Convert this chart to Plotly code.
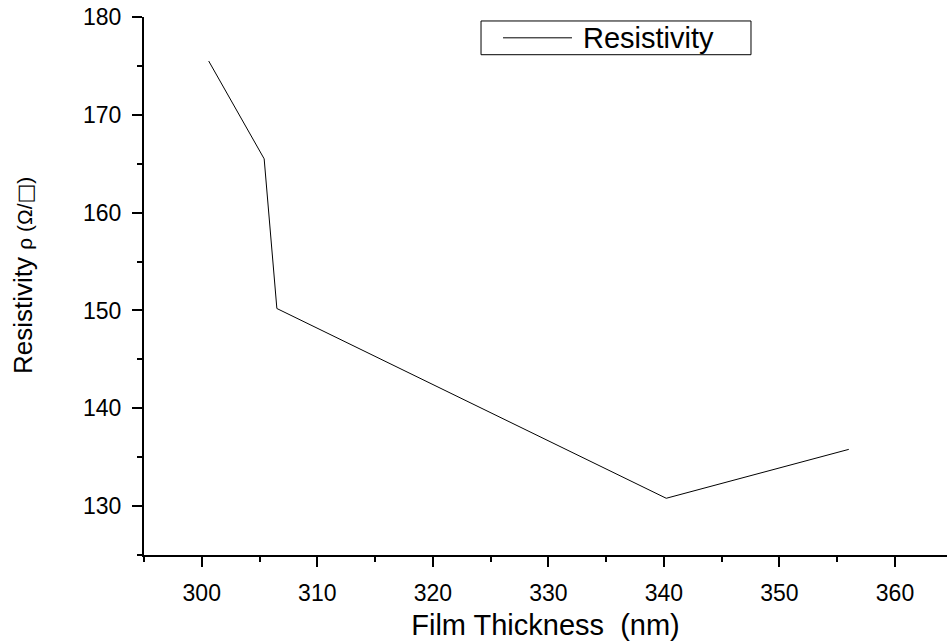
import plotly.graph_objects as go

thickness_nm = [300.6, 305.4, 306.5, 340.2, 356.0]
resistivity = [175.5, 165.5, 150.2, 130.8, 135.8]
x_ticks = [300, 310, 320, 330, 340, 350, 360]
y_ticks = [130, 140, 150, 160, 170, 180]
series_name = "Resistivity"
y_title = ("Resistivity <span style='font-size:21px'>ρ (Ω/</span>"
           "<span style='font-size:21px;font-family:DejaVu Sans'>□</span>"
           "<span style='font-size:21px'>)</span>")

FONT = "Liberation Sans, Arial, sans-serif"

fig = go.Figure()
fig.add_trace(go.Scatter(
    x=thickness_nm, y=resistivity, mode="lines", name=series_name,
    line=dict(color="black", width=1), showlegend=False,
))

axis_common = dict(
    showline=True, linecolor="black", linewidth=2,
    ticks="outside", ticklen=10, tickwidth=2, tickcolor="black",
    showgrid=False, zeroline=False, mirror=False,
    tickfont=dict(family=FONT, size=23, color="black"),
    ticklabelstandoff=6,
)

fig.update_layout(
    width=947, height=641,
    margin=dict(l=144, r=0, t=17, b=82),
    paper_bgcolor="white", plot_bgcolor="white",
    font=dict(family=FONT, color="black"),
    xaxis=dict(
        range=[295, 364.5], tickvals=x_ticks,
        minor=dict(ticks="outside", ticklen=5, tickwidth=2, tickcolor="black", dtick=5, tick0=295),
        title=dict(text="Film Thickness  (nm)", font=dict(family=FONT, size=29, color="black"), standoff=15),
        **axis_common,
    ),
    yaxis=dict(
        range=[125, 180], tickvals=y_ticks,
        minor=dict(ticks="outside", ticklen=5, tickwidth=2, tickcolor="black", dtick=5, tick0=125),
        **axis_common,
    ),
    showlegend=False,
)

# Y-axis title as rotated annotation
fig.add_annotation(xref="paper", yref="paper", x=-0.1507, y=0.5203,
                   xanchor="center", yanchor="middle", showarrow=False, textangle=-90,
                   text=y_title, font=dict(family=FONT, size=26, color="black"))

# Legend box drawn in paper coordinates
fig.add_shape(type="rect", xref="paper", yref="paper",
              x0=0.4197, x1=0.7559, y0=0.9299, y1=0.9926,
              line=dict(color="black", width=1), fillcolor="white", layer="above")
fig.add_shape(type="line", xref="paper", yref="paper",
              x0=0.4471, x1=0.5330, y0=0.9613, y1=0.9613,
              line=dict(color="black", width=1), layer="above")
fig.add_annotation(xref="paper", yref="paper", x=0.5445, y=0.9613,
                   xanchor="left", yanchor="middle", showarrow=False,
                   text=series_name, font=dict(family=FONT, size=29, color="black"))

fig.write_html("out.html")
